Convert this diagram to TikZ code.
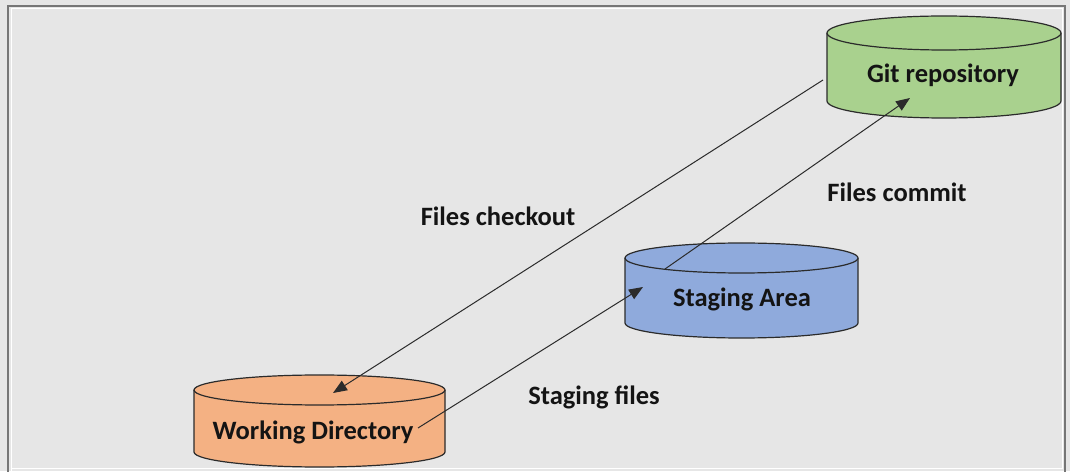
\documentclass[tikz,border=0pt]{standalone}
\usepackage{fontspec}
\setmainfont{Carlito}
\usetikzlibrary{arrows.meta}
\definecolor{bg}{HTML}{E6E6E6}
\definecolor{frame}{HTML}{767676}
\definecolor{gitfill}{HTML}{A9D18E}
\definecolor{stagefill}{HTML}{8FAADC}
\definecolor{workfill}{HTML}{F4B183}
\definecolor{edge}{HTML}{2B2B2B}
\tikzset{
  cyltext/.style={font=\fontsize{26.5}{30}\selectfont\bfseries, text=black!92, inner sep=0pt},
  lbl/.style={font=\fontsize{26.5}{30}\selectfont\bfseries, text=black!92, inner sep=0pt},
  conn/.style={draw=edge, line width=1pt, -{Triangle[length=14pt,width=11pt]}},
  cylout/.style={draw=edge, line width=1.2pt}
}
\begin{document}
\begin{tikzpicture}[x=1pt,y=1pt]
\useasboundingbox (0,0) rectangle (1070,471);
\fill[bg] (0,0) rectangle (1070,471);
\draw[frame, line width=2.5pt] (8,-10) -- (8,465) -- (1065,465) -- (1065,-10);
\draw[white, line width=1pt] (11,-5) -- (11,462) -- (1062,462) -- (1062,3) -- (11,3);

% Git repository cylinder
\filldraw[fill=gitfill, cylout] (827,438) -- (827,370) arc[start angle=180,end angle=360,x radius=117,y radius=17] -- (1061,438);
\filldraw[fill=gitfill, cylout] (944,438) ellipse[x radius=117,y radius=17];
% Staging area cylinder
\filldraw[fill=stagefill, cylout] (625,213) -- (625,148) arc[start angle=180,end angle=360,x radius=116.5,y radius=15] -- (858,213);
\filldraw[fill=stagefill, cylout] (741.5,213) ellipse[x radius=116.5,y radius=15];
% Working directory cylinder
\filldraw[fill=workfill, cylout] (194,81) -- (194,19) arc[start angle=180,end angle=360,x radius=125.5,y radius=15] -- (445,81);
\filldraw[fill=workfill, cylout] (319.5,81) ellipse[x radius=125.5,y radius=15];

\node[cyltext] (git) at (943,396) {Git repository};
\node[cyltext] (stage) at (742,172) {Staging Area};
\node[cyltext] (work) at (313,39) {Working Directory};

\node[lbl] (lcheckout) at (498,255) {Files checkout};
\node[lbl] (lcommit) at (897,279) {Files commit};
\node[lbl] (lstaging) at (594,74) {Staging files};

\coordinate (gitout) at (823,391);
\coordinate (workin) at (333,78);
\coordinate (workout) at (418,43);
\coordinate (stagein) at (643,184);
\coordinate (stageout) at (665,202);
\coordinate (gitin) at (910,373);

\draw[conn] (gitout) -- (workin);
\draw[conn] (workout) -- (stagein);
\draw[conn] (stageout) -- (gitin);
\end{tikzpicture}
\end{document}
